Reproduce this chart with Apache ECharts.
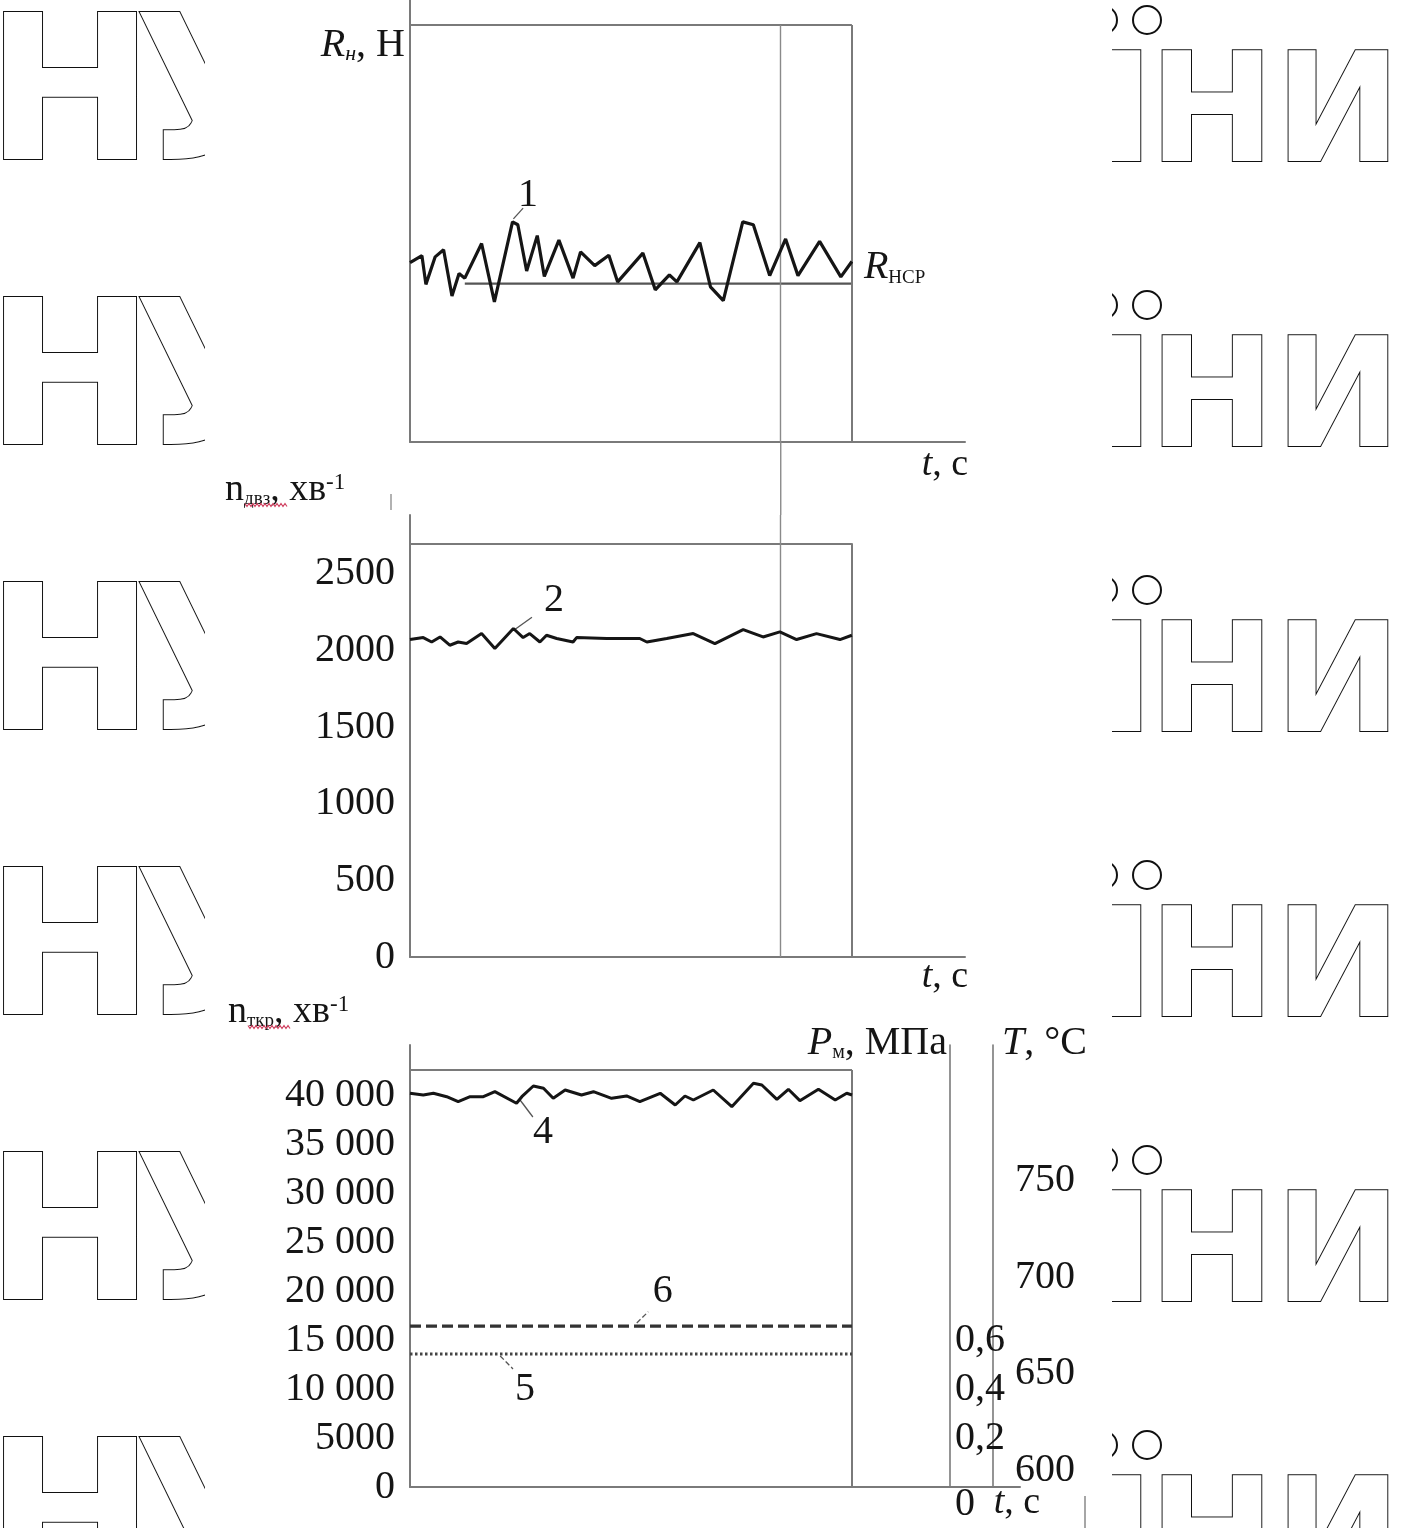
<!DOCTYPE html>
<html><head><meta charset="utf-8">
<script src="https://cdn.jsdelivr.net/npm/echarts@6/dist/echarts.min.js"></script>
<style>html,body{margin:0;padding:0;background:#fff}#c{width:1407px;height:1528px}</style>
</head><body><div id="c"></div>
<script>
// ---- data (time in relative units, 0..100 = recorded interval) ----
const forceT = [0,2.7,3.6,5.7,7.6,9.5,11.1,12.4,16.2,19.1,23.2,24.4,26.4,28.8,30.4,33.7,36.9,38.6,41.8,45.0,47.0,52.7,55.5,58.7,60.4,65.6,68.0,70.9,75.3,77.7,81.4,85.0,87.8,92.7,97.5,100];
const forceV = [43.0,44.7,37.8,44.4,46.1,35.0,40.4,39.3,47.6,33.6,52.8,52.1,41.0,49.5,39.7,48.4,39.3,45.6,42.3,44.8,38.4,45.3,36.5,40.1,38.4,47.8,37.2,33.9,52.8,52.1,39.9,48.7,39.9,48.1,39.6,43.3];
const forceMeanT = [12.4, 100];
const forceMean = 38.0;

const rpmT = [0,3.0,4.9,6.8,9.0,10.9,12.8,16.2,19.2,23.4,25.6,27.1,29.4,30.9,33.2,36.9,37.7,44.5,52.0,53.6,58.1,64.1,69.0,75.4,79.9,83.7,87.5,92.0,97.3,100];
const rpmV = [2072,2085,2056,2089,2035,2056,2046,2111,2013,2144,2085,2111,2056,2100,2079,2056,2085,2079,2079,2056,2079,2111,2046,2137,2089,2122,2072,2111,2072,2100];

const turboT = [0,3.0,5.3,8.3,10.9,13.6,16.6,19.2,24.1,25.3,27.9,30.2,32.4,35.1,38.8,41.5,45.6,49.0,52.0,56.6,60.0,62.2,64.1,68.6,72.8,77.7,79.6,83.0,85.6,88.2,92.4,96.2,98.8,100];
const turboV = [40256,40082,40256,39908,39397,39908,39908,40420,39234,39908,41002,40767,39744,40593,40082,40420,39744,39980,39397,40256,39060,39980,39571,40593,38886,41278,41105,39643,40665,39500,40665,39571,40256,40082];

const levelT = [0, 100];
const tempLevel = 674.6;   // curve 6, °C
const pressLevel = 0.544;  // curve 5, MPa

const markerT = 83.9;
const rpmTicks = [0,500,1000,1500,2000,2500];
const turboTicks = [0,5000,10000,15000,20000,25000,30000,35000,40000];
const pressTicks = [0,0.2,0.4,0.6];
const tempTicks = [600,650,700,750];

// ---- helpers ----
const SERIF = 'Liberation Serif';
const INK = '#151515';
const AX = '#7a7a7a';
const pairs = (t, v) => t.map((x, i) => [x, v[i]]);
const flat = (t, v) => t.map(x => [x, v]);

const axisLine = { show: true, onZero: false, lineStyle: { color: AX, width: 2 } };
function xAx(grid, max) {
  return { type: 'value', gridIndex: grid, min: 0, max: max, axisLine: axisLine,
    axisTick: { show: false }, axisLabel: { show: false }, splitLine: { show: false } };
}
const lblBase = { fontFamily: SERIF, fontSize: 40, color: INK };

const box = (top) => ([
  [{ coord: [0, top] }, { coord: [100, top] }],
  [{ coord: [100, top] }, { coord: [100, 0] }]
]);
const leader = (a, b) => [{ coord: a, lineStyle: { color: '#555', width: 1.3 } }, { coord: b }];
const numLabel = (c, txt) => ({ coord: c, value: txt, symbolSize: 1, itemStyle: { color: 'rgba(0,0,0,0)' },
  label: { show: true, position: 'inside', formatter: txt, fontFamily: SERIF, fontSize: 40, color: INK } });

const chart = echarts.init(document.getElementById('c'), null, { renderer: 'canvas' });

const option = {
  animation: false,
  backgroundColor: '#fff',
  grid: [
    { left: 410, top: 0, width: 555, height: 442, containLabel: false, outerBoundsMode: 'none' },
    { left: 410, top: 515, width: 555, height: 442, containLabel: false, outerBoundsMode: 'none' },
    { left: 410, top: 1045, width: 610, height: 442, containLabel: false, outerBoundsMode: 'none' }
  ],
  xAxis: [xAx(0, 125.6), xAx(1, 125.6), xAx(2, 138.0)],
  yAxis: [
    { type: 'value', gridIndex: 0, min: 0, max: 106, axisLine: axisLine, axisTick: { show: false },
      axisLabel: { show: false }, splitLine: { show: false } },
    { type: 'value', gridIndex: 1, min: 0, max: 2885, axisLine: axisLine, axisTick: { show: false },
      splitLine: { show: false },
      axisLabel: Object.assign({ margin: 15, customValues: rpmTicks, formatter: v => String(v) }, lblBase) },
    { type: 'value', gridIndex: 2, min: 0, max: 45194, axisLine: axisLine, axisTick: { show: false },
      splitLine: { show: false },
      axisLabel: Object.assign({ margin: 15, customValues: turboTicks,
        formatter: v => v >= 10000 ? Math.floor(v / 1000) + ' 000' : String(v) }, lblBase) },
    { type: 'value', gridIndex: 2, position: 'right', offset: -70, min: 0, max: 1.808,
      axisLine: { show: true, onZero: false, lineStyle: { color: AX, width: 1.6 } },
      axisTick: { show: false }, splitLine: { show: false },
      axisLabel: Object.assign({ margin: 5, customValues: pressTicks,
        formatter: v => v === 0 ? '{z|0}' : String(v).replace('.', ','),
        rich: { z: { fontFamily: SERIF, fontSize: 40, color: INK, padding: [34, 0, 0, 0] } } }, lblBase) },
    { type: 'value', gridIndex: 2, position: 'right', offset: -27, min: 591.2, max: 820.2,
      axisLine: { show: true, onZero: false, lineStyle: { color: AX, width: 1.6 } },
      axisTick: { show: false }, splitLine: { show: false },
      axisLabel: Object.assign({ margin: 22, customValues: tempTicks, formatter: v => String(v) }, lblBase) }
  ],
  series: [
    { name: '1', type: 'line', xAxisIndex: 0, yAxisIndex: 0, data: pairs(forceT, forceV),
      symbol: 'none', lineStyle: { color: INK, width: 3.2 }, z: 5,
      markLine: { silent: true, symbol: ['none', 'none'], label: { show: false },
        lineStyle: { color: AX, width: 2, type: 'solid' },
        data: box(100).concat([
          [{ coord: [markerT, 100], lineStyle: { color: '#8a8a8a', width: 1.4 } }, { coord: [markerT, 0] }],
          leader([23.4, 53.5], [25.6, 56.1])
        ]) },
      markPoint: { silent: true, data: [numLabel([26.7, 58.9], '1')] } },
    { name: 'Rнср', type: 'line', xAxisIndex: 0, yAxisIndex: 0, data: flat(forceMeanT, forceMean),
      symbol: 'none', lineStyle: { color: '#555', width: 2.2 }, z: 4,
      endLabel: { show: true, distance: 12, offset: [0, -16], formatter: '{r|R}{s|НСР}',
        rich: { r: { fontFamily: SERIF, fontStyle: 'italic', fontSize: 40, color: INK, lineHeight: 40 },
                s: { fontFamily: SERIF, fontSize: 19, color: INK, verticalAlign: 'bottom', lineHeight: 22 } } } },
    { name: '2', type: 'line', xAxisIndex: 1, yAxisIndex: 1, data: pairs(rpmT, rpmV),
      symbol: 'none', lineStyle: { color: INK, width: 3 }, z: 5,
      markLine: { silent: true, symbol: ['none', 'none'], label: { show: false },
        lineStyle: { color: AX, width: 2, type: 'solid' },
        data: box(2700).concat([
          [{ coord: [markerT, 2885], lineStyle: { color: '#8a8a8a', width: 1.4 } }, { coord: [markerT, 0] }],
          leader([23.8, 2139], [27.6, 2217])
        ]) },
      markPoint: { silent: true, data: [numLabel([32.6, 2322], '2')] } },
    { name: '4', type: 'line', xAxisIndex: 2, yAxisIndex: 2, data: pairs(turboT, turboV),
      symbol: 'none', lineStyle: { color: INK, width: 3 }, z: 5,
      markLine: { silent: true, symbol: ['none', 'none'], label: { show: false },
        lineStyle: { color: AX, width: 2, type: 'solid' },
        data: box(42638).concat([leader([24.9, 39571], [27.8, 37833])]) },
      markPoint: { silent: true, data: [numLabel([30.1, 36197], '4')] } },
    { name: '6', type: 'line', xAxisIndex: 2, yAxisIndex: 4, data: flat(levelT, tempLevel),
      symbol: 'none', lineStyle: { color: '#333', width: 3.2, type: [11, 5] }, z: 5,
      markLine: { silent: true, symbol: ['none', 'none'], label: { show: false },
        data: [leader([51.3, 676.2], [53.9, 682.0])] },
      markPoint: { silent: true, data: [numLabel([57.2, 692.2], '6')] } },
    { name: '5', type: 'line', xAxisIndex: 2, yAxisIndex: 3, data: flat(levelT, pressLevel),
      symbol: 'none', lineStyle: { color: '#444', width: 3, type: [2.5, 2.5] }, z: 5,
      markLine: { silent: true, symbol: ['none', 'none'], label: { show: false },
        data: [leader([20.4, 0.536], [23.3, 0.483])] },
      markPoint: { silent: true, data: [numLabel([26.0, 0.397], '5')] } }
  ]
};
chart.setOption(option);

// ---- decorations: watermark, titles, connector ----
const g = [];
const WM = { fontFamily: 'DejaVu Sans', fontWeight: 'bold', fill: '#fff', stroke: '#111', lineWidth: 2 };
for (let k = 0; k < 6; k++) {
  const dy = 285 * k;
  g.push({ type: 'text', z: -3, silent: true, style: Object.assign({ text: 'Н', x: 70, y: 107 + dy, fontSize: 202, align: 'center', verticalAlign: 'middle' }, WM) });
  g.push({ type: 'text', z: -3, silent: true, style: Object.assign({ text: 'У', x: 134, y: 107 + dy, fontSize: 202, align: 'left', verticalAlign: 'middle' }, WM) });
  g.push({ type: 'text', z: -3, silent: true, style: Object.assign({ text: 'І', x: 1126, y: 122 + dy, fontSize: 151, align: 'center', verticalAlign: 'middle' }, WM) });
  g.push({ type: 'circle', z: -3, silent: true, shape: { cx: 1103, cy: 20 + dy, r: 14 }, style: { fill: '#fff', stroke: '#111', lineWidth: 2 } });
  g.push({ type: 'circle', z: -3, silent: true, shape: { cx: 1147, cy: 20 + dy, r: 14 }, style: { fill: '#fff', stroke: '#111', lineWidth: 2 } });
  g.push({ type: 'text', z: -3, silent: true, style: Object.assign({ text: 'Н', x: 1212, y: 122 + dy, fontSize: 151, align: 'center', verticalAlign: 'middle' }, WM) });
  g.push({ type: 'text', z: -3, silent: true, style: Object.assign({ text: 'И', x: 1338, y: 122 + dy, fontSize: 151, align: 'center', verticalAlign: 'middle' }, WM) });
}
g.push({ type: 'rect', z: -2, silent: true, shape: { x: 205, y: 0, width: 907, height: 1528 }, style: { fill: '#fff' } });

const T = (o) => ({ type: 'text', z: 10, silent: true, style: o });
const rich = (size) => ({
  i: { fontFamily: SERIF, fontStyle: 'italic', fontSize: size, fill: INK, lineHeight: size },
  n: { fontFamily: SERIF, fontSize: size, fill: INK, lineHeight: size },
  s: { fontFamily: SERIF, fontSize: Math.round(size * 0.5), fill: INK, verticalAlign: 'bottom', lineHeight: Math.round(size * 0.55) },
  si: { fontFamily: SERIF, fontStyle: 'italic', fontSize: Math.round(size * 0.55), fill: INK, verticalAlign: 'bottom', lineHeight: Math.round(size * 0.6) },
  p: { fontFamily: SERIF, fontSize: Math.round(size * 0.6), fill: INK, verticalAlign: 'top', lineHeight: Math.round(size * 0.6) }
});
g.push(T({ text: '{i|R}{si|н}{n|, Н}', x: 405, y: 45, align: 'right', verticalAlign: 'middle', rich: rich(40) }));
g.push(T({ text: '{n|n}{s|двз}{n|, хв}{p|-1}', x: 225, y: 490, align: 'left', verticalAlign: 'middle', rich: rich(38) }));
g.push(T({ text: '{n|n}{s|ткр}{n|, хв}{p|-1}', x: 228, y: 1012, align: 'left', verticalAlign: 'middle', rich: rich(38) }));
g.push(T({ text: '{i|P}{s|м}{n|, МПа}', x: 947, y: 1043, align: 'right', verticalAlign: 'middle', rich: rich(40) }));
g.push(T({ text: '{i|T}{n|, °C}', x: 1002, y: 1043, align: 'left', verticalAlign: 'middle', rich: rich(40) }));
g.push(T({ text: '{i|t}{n|, c}', x: 945, y: 465, align: 'center', verticalAlign: 'middle', rich: rich(38) }));
g.push(T({ text: '{i|t}{n|, c}', x: 945, y: 977, align: 'center', verticalAlign: 'middle', rich: rich(38) }));
g.push(T({ text: '{i|t}{n|, c}', x: 1017, y: 1503, align: 'center', verticalAlign: 'middle', rich: rich(38) }));

// red spell-check underline under subscripts
function wave(x0, x1, y) {
  const pts = [];
  for (let x = x0, i = 0; x <= x1; x += 2, i++) pts.push([x, y + (i % 2 ? 1.5 : -1.5)]);
  return { type: 'polyline', z: 10, silent: true, shape: { points: pts }, style: { stroke: '#d04060', lineWidth: 1.2, fill: null } };
}
g.push(wave(245, 287, 505));
g.push(wave(248, 290, 1027));

// connector of the vertical marker line between the upper two panels
const pA = chart.convertToPixel({ xAxisIndex: 0, yAxisIndex: 0 }, [markerT, 0]);
const pB = chart.convertToPixel({ xAxisIndex: 1, yAxisIndex: 1 }, [markerT, 2885]);
g.push({ type: 'line', z: 10, silent: true, shape: { x1: pA[0], y1: pA[1], x2: pB[0], y2: pB[1] }, style: { stroke: '#8a8a8a', lineWidth: 1.4 } });
// small stray strokes of the scan
g.push({ type: 'line', z: 10, silent: true, shape: { x1: 391, y1: 494, x2: 391, y2: 510 }, style: { stroke: '#999', lineWidth: 1.5 } });
g.push({ type: 'line', z: 10, silent: true, shape: { x1: 1085, y1: 1496, x2: 1085, y2: 1528 }, style: { stroke: '#888', lineWidth: 1.5 } });

chart.setOption({ graphic: g });
</script></body></html>
